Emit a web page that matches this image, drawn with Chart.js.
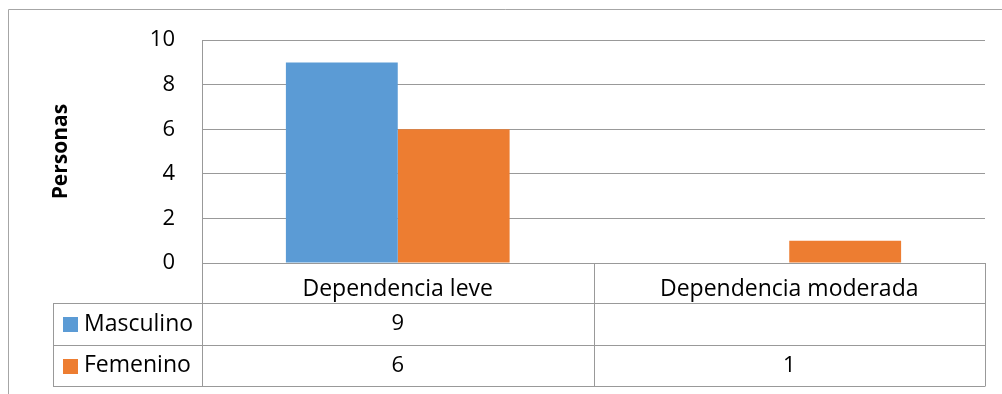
<!DOCTYPE html>
<html>
<head>
<meta charset="utf-8">
<script src="https://cdn.jsdelivr.net/npm/chart.js@4.4.0/dist/chart.umd.min.js"></script>
<style>
  html, body { margin: 0; padding: 0; background: #fff; }
  #wrap { width: 1002px; height: 394px; }
</style>
</head>
<body>
<div id="wrap"><canvas id="chart" width="1002" height="394"></canvas></div>
<script>
// chart values
const categories = ["Dependencia leve", "Dependencia moderada"];
const seriesNames = ["Masculino", "Femenino"];
const masculino = [9, null];
const femenino = [6, 1];
const seriesColors = ["#5B9BD5", "#ED7D31"];
const yMin = 0;
const yMax = 10;
const yStep = 2;
const yTitle = "Personas";

const FONT = "'Open Sans'";
const GRID = "#999999";

// draws the outer frame and the data table under the x axis
const dataTablePlugin = {
  id: "dataTable",
  afterDraw(chart) {
    const ctx = chart.ctx;
    const x = chart.scales.x;
    const area = chart.chartArea;
    const headTop = area.bottom;
    const rowTops = [x.bottom, x.bottom + 42, x.bottom + 83];
    const labelLeft = 53;

    ctx.save();
    ctx.lineWidth = 1;

    // outer frame (top + left)
    ctx.strokeStyle = "#a6a6a6";
    ctx.beginPath();
    ctx.moveTo(8.5, 394);
    ctx.lineTo(8.5, 9.5);
    ctx.lineTo(1002, 9.5);
    ctx.stroke();

    ctx.strokeStyle = GRID;
    ctx.beginPath();
    // horizontal rows
    rowTops.forEach((t) => {
      ctx.moveTo(labelLeft, Math.round(t) + 0.5);
      ctx.lineTo(area.right, Math.round(t) + 0.5);
    });
    // left column of table
    ctx.moveTo(labelLeft + 0.5, rowTops[0]);
    ctx.lineTo(labelLeft + 0.5, rowTops[2] + 0.5);
    // column separators
    const edges = [area.left];
    const half = (x.getPixelForValue(1) - x.getPixelForValue(0)) / 2;
    for (let i = 0; i < categories.length; i++) {
      edges.push(x.getPixelForValue(i) + half);
    }
    edges.forEach((e) => {
      ctx.moveTo(Math.round(e) + 0.5, headTop);
      ctx.lineTo(Math.round(e) + 0.5, rowTops[2] + 0.5);
    });
    ctx.stroke();

    // row labels and values
    ctx.textBaseline = "middle";
    chart.data.datasets.forEach((ds, r) => {
      const cy = (rowTops[r] + rowTops[r + 1]) / 2;
      ctx.fillStyle = seriesColors[r];
      ctx.fillRect(63, Math.round(cy - 7), 15, 15);
      ctx.fillStyle = "#000";
      ctx.textAlign = "left";
      ctx.font = "23px " + FONT;
      ctx.fillText(seriesNames[r], 84, cy);
      ctx.textAlign = "center";
      ctx.font = "22px " + FONT;
      ds.data.forEach((v, i) => {
        if (v === null || v === undefined) return;
        ctx.fillText(String(v), x.getPixelForValue(i), cy);
      });
    });
    ctx.restore();
  },
};

new Chart(document.getElementById("chart"), {
  type: "bar",
  data: {
    labels: categories,
    datasets: [
      { label: seriesNames[0], data: masculino, backgroundColor: seriesColors[0] },
      { label: seriesNames[1], data: femenino, backgroundColor: seriesColors[1] },
    ],
  },
  options: {
    responsive: false,
    animation: false,
    events: [],
    categoryPercentage: 2 / 3.5,
    barPercentage: 1,
    layout: { padding: { top: 39, right: 17, bottom: 91, left: 0 } },
    plugins: {
      legend: { display: false },
      tooltip: { enabled: false },
    },
    scales: {
      x: {
        grid: { display: false },
        border: { display: true, color: GRID },
        ticks: { color: "#000", padding: 5, font: { family: FONT, size: 23 } },
        afterFit(scale) { scale.height = 40; },
      },
      y: {
        min: yMin,
        max: yMax,
        ticks: { stepSize: yStep, color: "#000", padding: 27, font: { family: FONT, size: 22 } },
        grid: { color: GRID, drawTicks: false },
        border: { display: true, color: GRID },
        title: {
          display: true,
          text: yTitle,
          color: "#000",
          font: { family: FONT, size: 21, weight: "bold" },
          padding: { top: 48, bottom: 0 },
        },
        afterFit(scale) { scale.width = 202; },
      },
    },
  },
  plugins: [dataTablePlugin],
});
</script>
</body>
</html>
